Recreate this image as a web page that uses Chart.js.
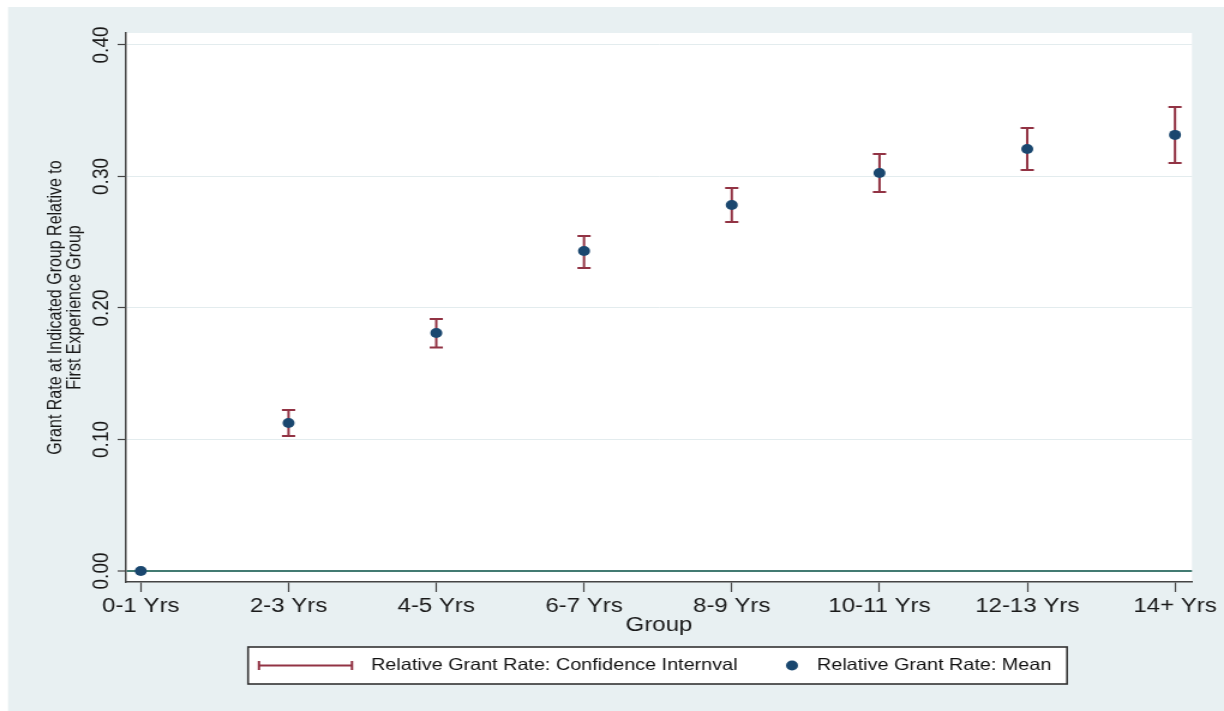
<!DOCTYPE html>
<html>
<head>
<meta charset="utf-8">
<title>Relative Grant Rate by Experience Group</title>
<script src="https://cdn.jsdelivr.net/npm/chart.js@4.4.1/dist/chart.umd.min.js"></script>
<style>
  html, body { margin: 0; padding: 0; background: #fff; overflow: hidden; }
  /* the graph is laid out at 1020px and widened to the 1224px page */
  #wrap { width: 1020px; height: 711px; transform: scaleX(1.2); transform-origin: 0 0; }
</style>
</head>
<body>
<div id="wrap"><canvas id="grantChart" width="1020" height="711"></canvas></div>
<script>
// experience groups
const categories = ['0-1 Yrs', '2-3 Yrs', '4-5 Yrs', '6-7 Yrs', '8-9 Yrs', '10-11 Yrs', '12-13 Yrs', '14+ Yrs'];

// grant rate relative to the first group
const meanRate = [0, 0.1125, 0.181, 0.2433, 0.2783, 0.3027, 0.3209, 0.3316];
const ciLow    = [null, 0.1027, 0.170, 0.2304, 0.2654, 0.2882, 0.3049, 0.3103];
const ciHigh   = [null, 0.1224, 0.1916, 0.2548, 0.2913, 0.3171, 0.3369, 0.3529];

const yTitle = ['Grant Rate at Indicated Group Relative to', 'First Experience Group'];
const legendLabels = ['Relative Grant Rate: Confidence Internval', 'Relative Grant Rate: Mean'];

const ciColor = '#923344';
const meanColor = '#1a476f';
const zeroColor = '#437b72';
const gridColor = '#e3ecee';
const axisColor = '#444';
const fontFamily = '"Liberation Sans", Arial, Helvetica, sans-serif';

Chart.defaults.font.family = fontFamily;
Chart.defaults.color = '#1a1a1a';

// outer panel and white plot region
const backdrop = {
  id: 'backdrop',
  beforeDraw(chart) {
    const { ctx, chartArea: a } = chart;
    ctx.save();
    ctx.fillStyle = '#ffffff';
    ctx.fillRect(0, 0, chart.width, chart.height);
    ctx.fillStyle = '#e8f0f2';
    ctx.fillRect(6.7, 7, chart.width, chart.height);
    ctx.fillStyle = '#ffffff';
    ctx.fillRect(a.left, a.top, a.right - a.left, a.bottom - a.top);
    ctx.restore();
  }
};

// capped confidence interval under each mean marker
const errorBars = {
  id: 'errorBars',
  beforeDatasetsDraw(chart) {
    const { ctx, scales: { x, y } } = chart;
    const cap = 5.5;
    ctx.save();
    ctx.strokeStyle = ciColor;
    ctx.lineWidth = 2;
    ciLow.forEach((lo, i) => {
      const hi = ciHigh[i];
      if (lo === null || hi === null) return;
      const px = x.getPixelForValue(i);
      const top = y.getPixelForValue(hi);
      const bot = y.getPixelForValue(lo);
      ctx.beginPath();
      ctx.moveTo(px, top); ctx.lineTo(px, bot);
      ctx.moveTo(px - cap, top); ctx.lineTo(px + cap, top);
      ctx.moveTo(px - cap, bot); ctx.lineTo(px + cap, bot);
      ctx.stroke();
    });
    ctx.restore();
  }
};

// boxed legend below the axis title
const legendBox = {
  id: 'legendBox',
  afterDraw(chart) {
    const ctx = chart.ctx;
    const box = { left: 206.7, top: 647, right: 889.2, bottom: 684 };
    const midY = (box.top + box.bottom) / 2;
    ctx.save();
    ctx.fillStyle = '#ffffff';
    ctx.fillRect(box.left, box.top, box.right - box.left, box.bottom - box.top);
    ctx.strokeStyle = '#333';
    ctx.lineWidth = 1.6;
    ctx.strokeRect(box.left, box.top, box.right - box.left, box.bottom - box.top);

    // interval swatch
    ctx.strokeStyle = ciColor;
    ctx.lineWidth = 2;
    ctx.beginPath();
    ctx.moveTo(215.8, midY); ctx.lineTo(293.3, midY);
    ctx.moveTo(215.8, midY - 4.5); ctx.lineTo(215.8, midY + 4.5);
    ctx.moveTo(293.3, midY - 4.5); ctx.lineTo(293.3, midY + 4.5);
    ctx.stroke();

    ctx.font = '16.5px ' + fontFamily;
    ctx.fillStyle = '#111';
    ctx.textBaseline = 'middle';
    ctx.fillText(legendLabels[0], 309.2, midY);

    // mean swatch
    ctx.fillStyle = meanColor;
    ctx.beginPath();
    ctx.arc(660, midY, 5, 0, Math.PI * 2);
    ctx.fill();
    ctx.fillStyle = '#111';
    ctx.fillText(legendLabels[1], 680.8, midY);
    ctx.restore();
  }
};

const points = categories.map((c, i) => ({ x: i, y: meanRate[i] }));

new Chart(document.getElementById('grantChart'), {
  type: 'scatter',
  data: {
    datasets: [{
      label: legendLabels[1],
      data: points,
      pointRadius: 5,
      pointHoverRadius: 5,
      backgroundColor: meanColor,
      borderWidth: 0
    }]
  },
  options: {
    responsive: false,
    animation: false,
    layout: { padding: { left: 0, top: 33, right: 26.7, bottom: 69 } },
    plugins: {
      legend: { display: false },
      tooltip: { enabled: false }
    },
    scales: {
      x: {
        type: 'linear',
        min: -0.1,
        max: 7.115,
        afterFit: s => { s.height = 60; },
        border: { color: axisColor, width: 1.5 },
        grid: { drawOnChartArea: false, tickLength: 10, tickColor: axisColor, tickWidth: 1.2 },
        ticks: {
          stepSize: 1,
          includeBounds: false,
          autoSkip: false,
          maxRotation: 0,
          padding: 2,
          font: { size: 20 },
          callback: v => categories[v]
        },
        title: {
          display: true,
          text: 'Group',
          font: { size: 20 },
          padding: { top: 0, bottom: 5 }
        }
      },
      y: {
        min: -0.0084,
        max: 0.4091,
        afterFit: s => { s.width = 105; },
        border: { color: axisColor, width: 1.5 },
        grid: {
          color: c => (c.tick && c.tick.value === 0 ? zeroColor : gridColor),
          lineWidth: c => (c.tick && c.tick.value === 0 ? 2 : 1),
          tickColor: axisColor,
          tickLength: 7,
          tickWidth: 1.2
        },
        ticks: {
          stepSize: 0.1,
          includeBounds: false,
          minRotation: 90,
          maxRotation: 90,
          crossAlign: 'center',
          padding: -5,
          font: { size: 19 },
          callback: v => v.toFixed(2)
        },
        title: {
          display: true,
          text: yTitle,
          font: { size: 16, lineHeight: 1.02 },
          padding: { top: 38, bottom: 0 }
        }
      }
    }
  },
  plugins: [backdrop, errorBars, legendBox]
});
</script>
</body>
</html>
